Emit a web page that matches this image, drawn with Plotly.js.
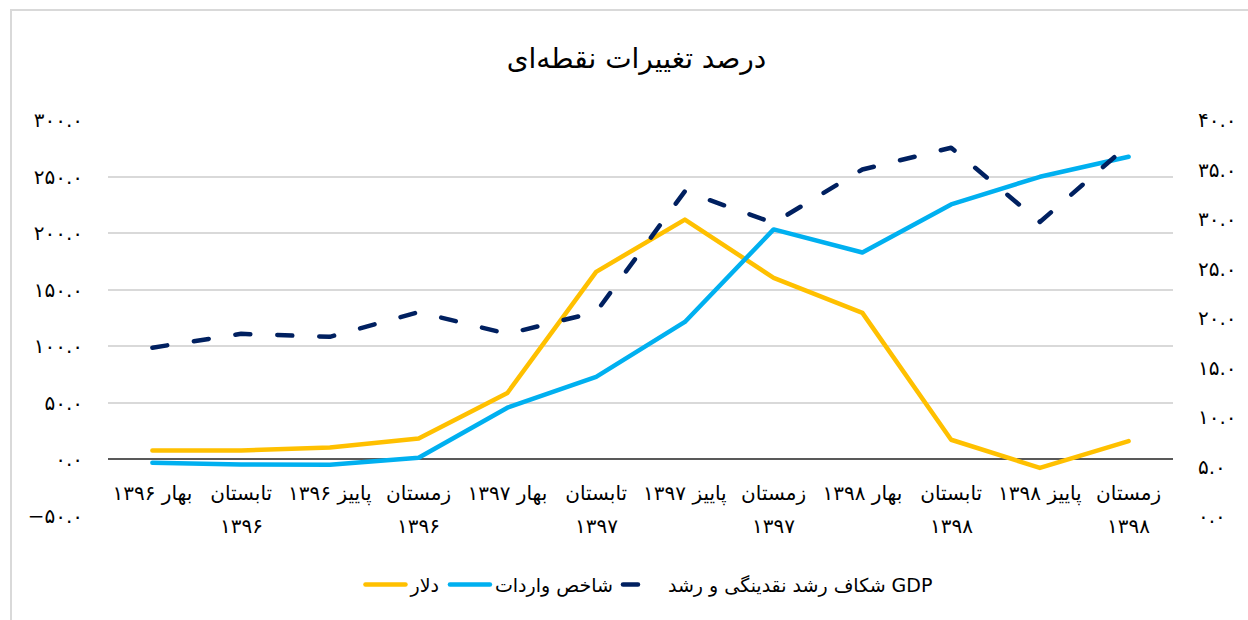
<!DOCTYPE html>
<html>
<head>
<meta charset="utf-8">
<script src="https://cdn.plot.ly/plotly-3.0.1.min.js"></script>
<style>
  html, body { margin: 0; padding: 0; background: #fff; overflow: hidden; }
  #chart { width: 1248px; height: 620px; position: relative; }
  #frame { position: absolute; left: 10px; top: 9px; width: 1400px; height: 800px;
           border-left: 2px solid #d9d9d9; border-top: 2px solid #d9d9d9; pointer-events: none; z-index: 5; }
  #chart path.js-line { stroke-linecap: round; stroke-linejoin: round; }
</style>
</head>
<body>
<div id="chart"></div>
<div id="frame"></div>
<script>
// ---- data ----
const categories = ["بهار ۱۳۹۶","تابستان ۱۳۹۶","پاییز ۱۳۹۶","زمستان ۱۳۹۶","بهار ۱۳۹۷","تابستان ۱۳۹۷","پاییز ۱۳۹۷","زمستان ۱۳۹۷","بهار ۱۳۹۸","تابستان ۱۳۹۸","پاییز ۱۳۹۸","زمستان ۱۳۹۸"];
const tickLine1 = ["بهار ۱۳۹۶","تابستان","پاییز ۱۳۹۶","زمستان","بهار ۱۳۹۷","تابستان","پاییز ۱۳۹۷","زمستان","بهار ۱۳۹۸","تابستان","پاییز ۱۳۹۸","زمستان"];
const tickLine2 = ["","۱۳۹۶","","۱۳۹۶","","۱۳۹۷","","۱۳۹۷","","۱۳۹۸","","۱۳۹۸"];

const dollar  = [8.0, 8.0, 10.5, 18.5, 58.7, 165.8, 212.0, 160.5, 129.5, 17.4, -7.5, 16.2];
const imports = [-2.9, -4.5, -4.7, 1.5, 45.7, 72.9, 121.5, 203.3, 182.9, 225.4, 249.8, 267.5];
const gdpGap  = [17.0, 18.4, 18.1, 20.6, 18.4, 20.6, 32.8, 29.6, 35.0, 37.2, 29.7, 37.5];

const seriesNames = ["دلار", "شاخص واردات", "شکاف رشد نقدینگی و رشد GDP"];
const titleText = "درصد تغییرات نقطه‌ای";

const yTickVals = [-50, 0, 50, 100, 150, 200, 250, 300];
const yTickText = ["−۵۰.۰","۰.۰","۵۰.۰","۱۰۰.۰","۱۵۰.۰","۲۰۰.۰","۲۵۰.۰","۳۰۰.۰"];
const y2TickVals = [0, 5, 10, 15, 20, 25, 30, 35, 40];
const y2TickText = ["۰.۰","۵.۰","۱۰.۰","۱۵.۰","۲۰.۰","۲۵.۰","۳۰.۰","۳۵.۰","۴۰.۰"];

// ---- chart ----
const FONT = "DejaVu Sans, Noto Sans, sans-serif";
const yMin = -50, yMax = 300;
const zeroPos = (0 - yMin) / (yMax - yMin);

const traces = [
  { x: categories, y: dollar, name: seriesNames[0], type: "scatter", mode: "lines",
    line: { color: "#FFC000", width: 4.5 }, xaxis: "x", yaxis: "y" },
  { x: categories, y: imports, name: seriesNames[1], type: "scatter", mode: "lines",
    line: { color: "#00B0F0", width: 4.5 }, xaxis: "x", yaxis: "y" },
  { x: categories, y: gdpGap, name: seriesNames[2], type: "scatter", mode: "lines",
    line: { color: "#002060", width: 4.5, dash: "15px,27px" }, xaxis: "x", yaxis: "y2" }
];

// second line of the wrapped category labels
const yearAnnotations = categories
  .map((c, i) => ({ c, t: tickLine2[i] }))
  .filter(d => d.t !== "")
  .map(d => ({
    x: d.c, xref: "x", y: zeroPos, yref: "paper", yanchor: "middle", yshift: -67,
    text: d.t, showarrow: false, font: { family: FONT, size: 20, color: "#000" }
  }));

const layout = {
  width: 1248, height: 620,
  margin: { l: 108, r: 75, t: 120, b: 104 },
  paper_bgcolor: "rgba(0,0,0,0)", plot_bgcolor: "rgba(0,0,0,0)",
  font: { family: FONT, size: 16, color: "#000" },
  title: { text: titleText, font: { family: FONT, size: 28, color: "#000" },
           xref: "container", x: 0.51, xanchor: "center", yref: "container", y: 0.906, yanchor: "middle" },
  showlegend: true,
  legend: { orientation: "h", xref: "container", x: 0.52, xanchor: "center",
            yref: "container", y: 0.057, yanchor: "middle",
            font: { family: FONT, size: 19, color: "#000" }, itemwidth: 40 },
  annotations: yearAnnotations,
  xaxis: {
    type: "category", range: [-0.5, categories.length - 0.5],
    anchor: "free", position: zeroPos,
    tickmode: "array", tickvals: categories, ticktext: tickLine1,
    showgrid: false, zeroline: false, showline: false, ticks: "",
    ticklabelstandoff: 20, tickangle: 0,
    tickfont: { family: FONT, size: 20, color: "#000" }
  },
  yaxis: {
    range: [yMin, yMax], tickmode: "array", tickvals: yTickVals, ticktext: yTickText,
    showgrid: true, gridcolor: "#d9d9d9", gridwidth: 2,
    zeroline: true, zerolinecolor: "#595959", zerolinewidth: 2,
    showline: false, ticks: "", ticklabelstandoff: 24,
    tickfont: { family: FONT, size: 20, color: "#000" }
  },
  yaxis2: {
    range: [0, 40], overlaying: "y", side: "right",
    tickmode: "array", tickvals: y2TickVals, ticktext: y2TickText,
    showgrid: false, zeroline: false, showline: false, ticks: "", ticklabelstandoff: 24,
    tickfont: { family: FONT, size: 20, color: "#000" }
  }
};

Plotly.newPlot("chart", traces, layout, { displayModeBar: false, staticPlot: true });
</script>
</body>
</html>
